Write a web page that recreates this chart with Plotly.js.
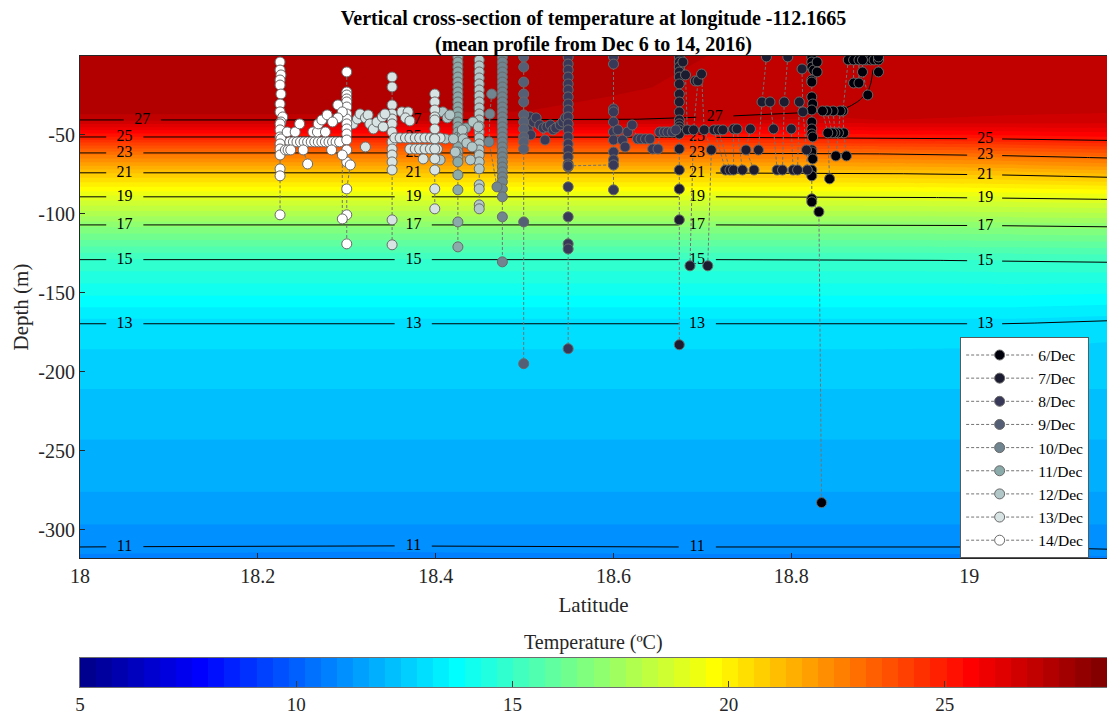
<!DOCTYPE html>
<html>
<head>
<meta charset="utf-8">
<script src="https://cdn.plot.ly/plotly-3.0.1.min.js"></script>
<style>html,body{margin:0;padding:0;background:#fff;}#chart{width:1107px;height:717px;}</style>
</head>
<body>
<div id="chart"></div>
<script>
// ---------- temperature section ----------
const gridLat = [18.0, 18.3, 18.6, 18.85, 18.9, 19.05, 19.155];
const gridDepth = [0, -20, -35, -40.5, -51.3, -61.4, -74, -89.2, -107, -129, -150, -169.6, -186, -211, -243, -276, -300, -311, -318];
const tempGrid = [
  [27.55, 27.55, 27.35, 27.15, 26.98, 26.97, 26.97],
  [27.5, 27.5, 27.3, 27.1, 26.97, 26.96, 26.95],
  [27.4, 27.4, 27.2, 27.0, 26.95, 26.93, 26.92],
  [27.0, 27.0, 27.0, 26.85, 26.9, 26.85, 26.8],
  [25.0, 25.0, 25.0, 25.1, 25.15, 25.25, 25.4],
  [23.0, 23.0, 23.0, 23.05, 23.1, 23.3, 23.54],
  [21.0, 21.0, 21.0, 21.03, 21.05, 21.2, 21.41],
  [19.0, 19.0, 19.0, 19.0, 19.02, 19.1, 19.19],
  [17.0, 17.0, 17.0, 17.0, 17.0, 17.05, 17.11],
  [15.0, 15.0, 15.0, 15.0, 15.0, 15.05, 15.09],
  [14.0, 14.0, 14.0, 14.0, 14.0, 14.0, 13.94],
  [13.0, 13.0, 13.0, 13.0, 13.0, 13.0, 12.9],
  [12.79, 12.79, 12.79, 12.79, 12.79, 12.78, 12.75],
  [12.42, 12.42, 12.42, 12.42, 12.42, 12.42, 12.42],
  [12.05, 12.05, 12.05, 12.05, 12.05, 12.05, 12.05],
  [11.68, 11.68, 11.68, 11.68, 11.68, 11.68, 11.68],
  [11.25, 11.25, 11.25, 11.25, 11.25, 11.25, 11.25],
  [11.0, 10.98, 11.0, 11.0, 11.0, 11.0, 11.02],
  [10.9, 10.88, 10.9, 10.9, 10.9, 10.9, 10.92]
];
const lineLevels = [11, 13, 15, 17, 19, 21, 23, 25, 27];
const labelLats = [18.05, 18.375, 18.694, 19.018];
const labelLats27 = [18.07, 18.375, 18.714];
const xTicks = [18, 18.2, 18.4, 18.6, 18.8, 19];
const xTickText = ['18', '18.2', '18.4', '18.6', '18.8', '19'];
const yTicks = [-300, -250, -200, -150, -100, -50];
const yTickText = ['-300', '-250', '-200', '-150', '-100', '-50'];
const cbTicks = [5, 10, 15, 20, 25];
const cbTickText = ['5', '10', '15', '20', '25'];

// ---------- CTD casts per day (null separates casts) ----------
const dayNames = ['6/Dec','7/Dec','8/Dec','9/Dec','10/Dec','11/Dec','12/Dec','13/Dec','14/Dec'];
const dayColors = ['rgb(0,0,11)','rgb(28,28,49)','rgb(56,56,88)','rgb(84,94,116)','rgb(112,133,143)','rgb(139,171,171)','rgb(178,199,199)','rgb(216,227,227)','rgb(255,255,255)'];

const lat06 = [18.823,18.823,18.823,18.825,18.823,18.823,18.823,18.824,18.823,18.823,18.823,18.823,18.824,18.823,18.823,18.824,18.823,18.823,18.823,18.823,18.831,18.834,null,
  18.829,18.829,null,
  18.864,18.858,18.859,18.862,null, 18.870,18.870,null, 18.876,18.876,null,
  18.884,18.889,18.893,18.898,18.898,18.898,null, 18.880,18.880,18.886,null,
  18.855,18.853,18.850,null, 18.847,18.849,null, 18.840,18.846,null, 18.835,18.841,18.843];
const dep06 = [-0.6,-3.8,-7.0,-8.9,-15.2,-16.5,-25.9,-30.4,-34.2,-41.8,-46.2,-49.4,-51.3,-59.5,-60.8,-65.2,-72.2,-75.9,-90.5,-92.4,-98.7,-282.9,null,
  -3.8,-10.1,null,
  -2.5,-34.8,-48.7,-63.3,null, -2.5,-17.1,null, -2.5,-17.1,null,
  -2.5,-2.5,-2.5,-2.5,-0.6,-10.1,null, -2.5,-10.1,-24.7,null,
  -34.8,-48.7,-63.3,null, -34.8,-48.7,null, -34.8,-48.7,null, -34.8,-48.7,-77.8];

const lat07 = [18.674,18.674,18.674,18.674,18.674,18.674,18.674,18.674,18.674,18.674,18.674,18.674,18.674,18.674,18.674,18.674,18.674,18.674,18.674,null,
  18.678,18.681,18.683,null, 18.692,18.695,18.690,18.686,null, 18.699,18.702,18.710,18.706,null,
  18.713,18.726,null, 18.718,18.731,null, 18.723,null, 18.735,18.735,null, 18.739,18.745,null,
  18.754,18.749,18.758,null, 18.772,18.767,18.763,null, 18.776,18.780,18.784,null,
  18.796,18.792,18.790,null, 18.800,18.802,null, 18.809,18.807,null, 18.812,18.813,18.817,18.818];
const dep07 = [-0.6,-3.8,-7.0,-10.1,-13.3,-17.7,-24.1,-29.1,-35.4,-40.5,-43.0,-44.9,-46.8,-49.4,-58.9,-72.2,-84.2,-103.8,-182.9,null,
  -3.8,-12.0,-46.8,null, -15.8,-15.8,-46.8,-132.9,null, -11.4,-46.8,-59.5,-132.9,null,
  -46.8,-72.2,null, -46.8,-72.2,null, -46.8,null, -46.2,-72.2,null, -46.2,-72.2,null,
  -46.2,-59.5,-72.2,null, -0.6,-29.1,-59.5,null, -29.1,-46.2,-72.2,null,
  -0.6,-29.1,-72.2,null, -46.2,-72.2,null, -29.1,-72.2,null, -8.2,-35.4,-59.5,-72.2];

const lat08 = [18.502,18.504,18.507,18.506,18.510,18.513,18.517,18.523,18.521,18.525,18.529,18.532,18.535,18.540,18.543,18.546,null,
  18.549,18.549,18.549,18.549,18.549,18.549,18.549,18.549,18.549,18.549,18.549,18.549,18.549,18.549,18.549,18.549,18.549,18.549,18.549,18.549,18.549,18.549,18.549,null,
  18.549,18.600,null,
  18.600,18.600,18.600,18.600,18.600,18.600,18.600,18.600,18.600,18.600,18.600,null,
  18.605,18.610,18.613,18.616,18.621,18.627,18.631,18.636,18.641,18.644,18.650,18.652,18.657,18.661,18.666,18.670];
const dep08 = [-43.7,-46.8,-50.0,-38.6,-41.8,-39.2,-43.7,-53.2,-45.6,-44.9,-43.7,-46.8,-45.6,-43.7,-41.8,-39.2,null,
  -0.6,-5.1,-8.9,-13.3,-17.7,-21.5,-25.9,-30.4,-34.2,-38.6,-43.0,-46.8,-51.3,-55.7,-59.5,-63.9,-68.4,-70.3,-82.9,-101.9,-119.0,-122.2,-185.4,null,
  -69.6,-69.0,null,
  -0.6,-5.1,-33.5,-35.4,-41.8,-48.1,-53.2,-60.8,-65.8,-69.0,-84.8,null,
  -46.8,-53.2,-57.6,-48.1,-43.7,-52.5,-52.5,-52.5,-52.5,-58.9,-58.9,-48.1,-48.1,-48.1,-48.1,-46.8];

const lat09 = [18.499,18.499,18.499,18.499,18.499,18.499,18.499,18.499,18.499,18.499,18.499,18.499,18.499];
const dep09 = [-0.6,-7.0,-16.5,-24.1,-29.1,-37.3,-41.8,-46.2,-51.3,-54.4,-58.9,-105.1,-194.9];

const lat10 = [18.475,18.475,18.475,18.475,18.475,18.475,18.475,18.475,18.475,18.475,18.475,18.475,18.475,18.475,18.475,18.475,18.475,18.475,18.475,18.475,18.475,18.475,18.475,18.475,18.475,18.475,18.475,18.475,18.475,18.475,null,
  18.463,18.461,18.460,18.469];
const dep10 = [-0.6,-3.8,-7.0,-10.1,-13.3,-16.5,-19.6,-22.8,-25.9,-29.1,-32.3,-35.4,-38.6,-41.8,-44.9,-48.1,-51.3,-54.4,-57.6,-60.8,-63.9,-67.1,-70.3,-73.4,-76.6,-79.7,-84.2,-89.2,-101.9,-130.4,null,
  -24.1,-36.7,-54.4,-82.9];

const lat11 = [18.425,18.425,18.425,18.425,18.425,18.425,18.425,18.425,18.425,18.425,18.425,18.425,18.425,18.425,18.425,18.425,18.425,18.425,18.425,18.425,18.425,18.425,18.425,18.425,18.425,18.425,null,
  18.434,18.430];
const dep11 = [-0.6,-3.8,-7.0,-10.1,-13.3,-16.5,-19.6,-22.8,-25.9,-29.1,-32.3,-35.4,-38.6,-41.8,-44.9,-48.1,-51.3,-54.4,-57.6,-60.8,-63.9,-67.1,-75.3,-84.8,-105.1,-120.9,null,
  -45.6,-50.0];

const lat12 = [18.449,18.449,18.449,18.449,18.449,18.449,18.449,18.449,18.449,18.449,18.449,18.449,18.449,18.449,18.449,18.449,18.449,18.449,18.449,18.449,18.449,18.449,18.449,null,
  18.408,18.413,18.416,null, 18.411,18.420,18.430,18.431,18.435,18.441,null, 18.422,18.439,null, 18.442,18.448,null, 18.400,18.405];
const dep12 = [-2.5,-6.3,-10.1,-13.9,-17.7,-21.5,-25.3,-29.1,-32.9,-36.7,-40.5,-44.3,-48.1,-51.9,-55.7,-59.5,-62.7,-67.1,-71.5,-81.6,-84.2,-94.3,-96.8,null,
  -35.4,-39.2,-37.3,null, -52.5,-52.5,-46.8,-52.5,-55.1,-57.6,null, -60.8,-65.8,null, -41.8,-44.9,null, -58.2,-65.8];

const lat13 = [18.351,18.351,18.351,18.351,18.351,18.351,18.351,18.351,18.351,18.351,18.351,18.351,18.351,18.351,null,
  18.307,18.312,18.315,18.321,18.324,18.326,18.330,18.334,18.340,18.343,18.341,null, 18.321,null,
  18.354,18.360,18.366,18.371,18.377,18.382,18.388,18.394,18.399,18.405,null,
  18.371,18.377,18.382,18.388,18.394,18.402,null, 18.386,null,
  18.362,18.369,18.366,18.371,null,
  18.399,18.399,18.399,18.399,18.399,18.399,18.399,18.399,18.399,18.399,18.399,18.399];
const dep13 = [-13.3,-19.6,-31.0,-36.7,-39.9,-43.0,-48.1,-54.4,-58.9,-62.7,-67.1,-72.2,-103.8,-119.6,null,
  -43.0,-39.9,-36.7,-39.2,-37.3,-43.0,-46.2,-41.8,-38.6,-36.7,-44.9,null, -57.6,null,
  -51.9,-51.9,-51.9,-51.9,-51.9,-51.9,-51.9,-51.9,-51.9,-51.9,null,
  -58.9,-58.9,-58.9,-58.9,-58.9,-58.9,null, -65.2,null,
  -35.4,-35.4,-39.2,-41.1,null,
  -24.1,-29.1,-34.2,-38.6,-40.5,-46.2,-52.5,-58.9,-65.2,-72.2,-84.2,-96.8];

const lat14 = [18.225,18.225,18.226,18.225,18.225,18.226,18.225,18.225,18.228,18.226,18.225,18.225,18.225,18.226,18.225,18.225,18.225,18.225,18.225,18.225,null,
  18.236,18.240,18.244,18.248,18.252,18.256,18.260,18.264,18.268,18.272,18.276,18.280,18.284,18.288,18.292,null,
  18.233,18.242,18.247,null, 18.262,18.267,18.276,null,
  18.231,18.234,18.237,null, 18.251,18.256,null, 18.283,null,
  18.300,18.300,18.300,18.300,18.300,18.300,18.300,18.300,18.300,18.300,18.300,18.300,18.300,18.300,18.304,18.300,18.300,18.300,null,
  18.290,18.295,18.290,null, 18.295,18.295,null,
  18.268,18.272,18.278,18.284];
const dep14 = [-3.8,-8.9,-12.0,-15.2,-18.4,-24.1,-30.4,-35.4,-38.6,-41.8,-43.0,-46.8,-51.3,-52.5,-55.7,-58.9,-62.7,-71.5,-75.9,-100.6,null,
  -54.4,-54.4,-54.4,-54.4,-54.4,-54.4,-54.4,-54.4,-54.4,-54.4,-54.4,-54.4,-54.4,-54.4,-54.4,null,
  -48.1,-48.1,-43.0,null, -48.1,-48.1,-48.1,null,
  -59.5,-59.5,-59.5,null, -59.5,-68.4,null, -59.5,null,
  -10.1,-22.8,-24.7,-27.2,-29.1,-32.3,-36.7,-39.9,-43.0,-46.2,-49.4,-53.2,-59.5,-67.1,-69.0,-84.2,-100.6,-119.0,null,
  -31.0,-35.4,-39.2,null, -62.7,-103.2,null,
  -43.0,-40.5,-37.3,-41.8];

const dayLats = [lat06, lat07, lat08, lat09, lat10, lat11, lat12, lat13, lat14];
const dayDeps = [dep06, dep07, dep08, dep09, dep10, dep11, dep12, dep13, dep14];

// ---------- helpers (interpolate the read grid) ----------
function tempAt(lat, row) {
  const r = tempGrid[row];
  if (lat <= gridLat[0]) return r[0];
  for (let j = 0; j < gridLat.length - 1; j++) {
    if (lat <= gridLat[j + 1]) {
      const f = (lat - gridLat[j]) / (gridLat[j + 1] - gridLat[j]);
      return r[j] + f * (r[j + 1] - r[j]);
    }
  }
  return r[r.length - 1];
}
function depthOfLevel(lat, L) {
  for (let i = 0; i < gridDepth.length - 1; i++) {
    const t0 = tempAt(lat, i), t1 = tempAt(lat, i + 1);
    if ((t0 - L) * (t1 - L) <= 0 && t0 !== t1) {
      return gridDepth[i] + (L - t0) / (t1 - t0) * (gridDepth[i + 1] - gridDepth[i]);
    }
  }
  return null;
}

// ---------- figure ----------
const FONT = 'Liberation Serif, Times New Roman, serif';
const jet = [[0,'rgb(0,0,135)'],[0.117,'rgb(0,0,255)'],[0.367,'rgb(0,255,255)'],[0.617,'rgb(255,255,0)'],[0.867,'rgb(255,0,0)'],[1,'rgb(124,0,0)']];
const cMin = 5, cMax = 28.75, nLev = 64;
const step = (cMax - cMin) / nLev;
const xMin = 18, xMax = 19.155;

const traces = [];
// filled section
traces.push({
  type: 'contour', x: gridLat, y: gridDepth, z: tempGrid,
  colorscale: jet, zauto: false, zmin: cMin, zmax: cMax, autocontour: false,
  contours: {start: cMin, end: cMax, size: step, coloring: 'fill', showlines: false},
  line: {width: 0, smoothing: 0}, showscale: false,
  hoverinfo: 'skip', showlegend: false, xaxis: 'x', yaxis: 'y'
});

// contour lines with gaps for labels
const gapHalf = 0.019;
const lx = [], ly = [], tx = [], ty = [], tt = [];
lineLevels.forEach(L => {
  const labs = (L === 27) ? labelLats27 : labelLats;
  let prevGap = false;
  for (let k = 0; k <= 470; k++) {
    const lat = xMin + (xMax - xMin) * k / 470;
    const inGap = labs.some(a => Math.abs(lat - a) < gapHalf);
    const d = depthOfLevel(lat, L);
    if (inGap || d === null) {
      if (!prevGap) { lx.push(null); ly.push(null); }
      prevGap = true;
    } else {
      lx.push(lat); ly.push(d); prevGap = false;
    }
  }
  lx.push(null); ly.push(null);
  labs.forEach(a => {
    const d = depthOfLevel(a, L);
    if (d !== null) { tx.push(a); ty.push(d); tt.push(String(L)); }
  });
});
traces.push({
  type: 'scatter', mode: 'lines', x: lx, y: ly, connectgaps: false,
  line: {color: '#000', width: 1}, hoverinfo: 'skip', showlegend: false
});
traces.push({
  type: 'scatter', mode: 'text', x: tx, y: ty, text: tt,
  textfont: {family: FONT, size: 16, color: '#000'}, textposition: 'middle center',
  hoverinfo: 'skip', showlegend: false
});

// colour bar drawn as a strip of 64 cells
const cbCenters = [];
for (let k = 0; k < nLev; k++) cbCenters.push(cMin + step * (k + 0.5));
traces.push({
  type: 'heatmap', x: cbCenters, y: [0.5], z: [cbCenters],
  colorscale: jet, zmin: cMin, zmax: cMax, showscale: false,
  hoverinfo: 'skip', xaxis: 'x2', yaxis: 'y2'
});

for (let i = 0; i < dayNames.length; i++) {
  traces.push({
    type: 'scatter', mode: 'lines+markers', name: dayNames[i],
    x: dayLats[i], y: dayDeps[i], connectgaps: false,
    line: {color: 'rgb(115,115,115)', width: 1, dash: '3px,2px'},
    marker: {size: 10, color: dayColors[i], line: {color: 'rgb(105,105,105)', width: 1}}
  });
}

const layout = {
  width: 1107, height: 717,
  margin: {l: 80, r: 0, t: 56, b: 30},
  paper_bgcolor: '#fff', plot_bgcolor: '#fff',
  font: {family: FONT, color: '#262626'},
  title: {
    text: '<b>Vertical cross-section of temperature at longitude -112.1665<br>(mean profile from Dec 6 to 14, 2016)</b>',
    font: {family: FONT, size: 20, color: '#000'},
    x: 0.5, xref: 'paper', xanchor: 'center', y: 0.9655, yref: 'container', yanchor: 'top'
  },
  xaxis: {
    domain: [0, 1], anchor: 'y', automargin: false,
    range: [xMin, xMax], tickvals: xTicks, ticktext: xTickText,
    ticks: 'inside', ticklen: 5, tickcolor: '#262626',
    showline: true, linecolor: 'rgb(38,38,38)', linewidth: 1, mirror: true,
    showgrid: false, zeroline: false,
    tickfont: {family: FONT, size: 20, color: '#262626'},
    title: {text: 'Latitude', font: {family: FONT, size: 21, color: '#262626'}, standoff: 11}
  },
  yaxis: {
    domain: [0.2044, 1], anchor: 'x', automargin: false,
    range: [-318, 0], tickvals: yTicks, ticktext: yTickText,
    ticks: 'inside', ticklen: 5, tickcolor: '#262626',
    showline: true, linecolor: 'rgb(38,38,38)', linewidth: 1, mirror: true,
    showgrid: false, zeroline: false,
    tickfont: {family: FONT, size: 20, color: '#262626'},
    title: {text: 'Depth (m)', font: {family: FONT, size: 21, color: '#262626'}, standoff: 3}
  },
  xaxis2: {
    domain: [0, 1], anchor: 'y2', automargin: false,
    range: [cMin, cMax], tickvals: cbTicks, ticktext: cbTickText,
    ticks: 'inside', ticklen: 6, tickcolor: 'rgb(60,60,60)',
    showline: true, linecolor: 'rgb(110,110,110)', linewidth: 1, mirror: true,
    showgrid: false, zeroline: false,
    tickfont: {family: FONT, size: 19, color: '#262626'}
  },
  yaxis2: {
    domain: [0, 0.046], anchor: 'x2', automargin: false,
    range: [0, 1], showticklabels: false, ticks: '',
    showline: true, linecolor: 'rgb(110,110,110)', linewidth: 1, mirror: true,
    showgrid: false, zeroline: false
  },
  annotations: [{
    text: 'Temperature (ºC)', xref: 'paper', yref: 'paper', x: 0.5, y: 0.046,
    xanchor: 'center', yanchor: 'bottom', yshift: 2, showarrow: false,
    font: {family: FONT, size: 20, color: '#262626'}
  }],
  legend: {
    x: 0.857, xanchor: 'left', y: 0.554, yanchor: 'top',
    bgcolor: '#fff', bordercolor: 'rgb(90,90,90)', borderwidth: 1,
    font: {family: FONT, size: 15.5, color: '#000'},
    itemwidth: 67, tracegroupgap: 0
  },
  showlegend: true
};

Plotly.newPlot('chart', traces, layout, {displayModeBar: false, staticPlot: true});
</script>
</body>
</html>
